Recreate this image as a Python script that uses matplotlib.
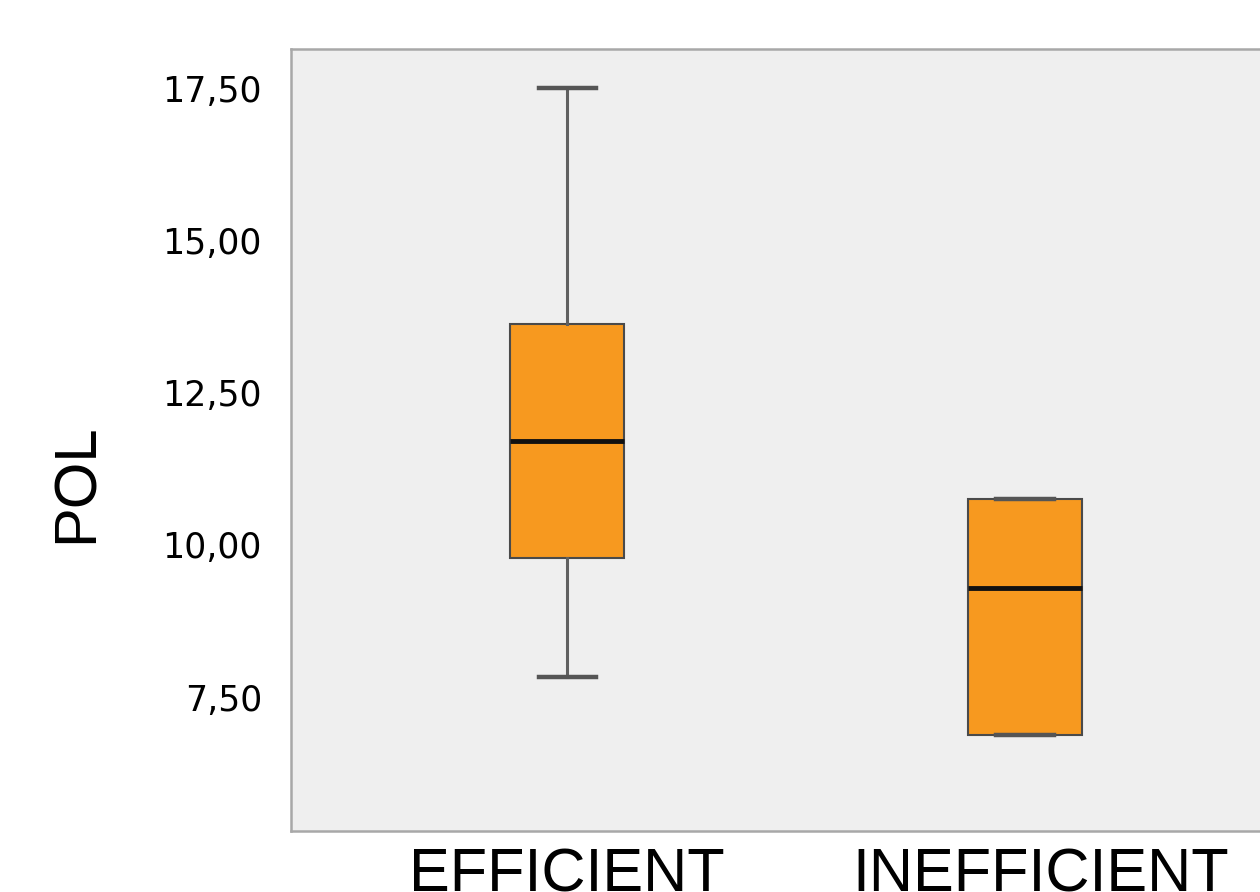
import matplotlib.pyplot as plt
from matplotlib import font_manager
from matplotlib.transforms import ScaledTranslation

# Kvartily skupin (ukazatel POL)
groups = ['EFFICIENT', 'INEFFICIENT']
whisker_low = [7.83, 6.88]
q1 = [9.78, 6.88]
median = [11.71, 9.29]
q3 = [13.63, 10.75]
whisker_high = [17.50, 10.75]
y_ticks = [7.5, 10.0, 12.5, 15.0, 17.5]

names = {f.name for f in font_manager.fontManager.ttflist}
narrow = 'Liberation Sans Narrow' if 'Liberation Sans Narrow' in names else 'Liberation Sans'

stats = []
for i, name in enumerate(groups):
    stats.append({
        'label': name,
        'whislo': whisker_low[i],
        'q1': q1[i],
        'med': median[i],
        'q3': q3[i],
        'whishi': whisker_high[i],
        'fliers': [],
    })

fig = plt.figure(figsize=(12.6, 8.92), dpi=100)
ax = fig.add_axes([0.231, 0.0684, 0.8016, 0.8766])
ax.set_facecolor('#efefef')

ax.bxp(stats, positions=[1, 2], widths=0.25, patch_artist=True,
       showfliers=False, capwidths=0.125,
       boxprops=dict(facecolor='#f7991f', edgecolor='#4a4a4a', linewidth=1.5),
       medianprops=dict(color='#111111', linewidth=3.5),
       whiskerprops=dict(color='#606060', linewidth=2.2),
       capprops=dict(color='#555555', linewidth=3.2))

ax.set_xlim(0.397, 2.603)
ax.set_ylim(5.30, 18.14)

ax.set_yticks(y_ticks)
ax.set_yticklabels([f'{v:.2f}'.replace('.', ',') for v in y_ticks],
                   fontsize=25, family='DejaVu Sans')
ax.tick_params(axis='y', length=0, pad=21)
ax.tick_params(axis='x', length=0, pad=12)
ax.set_xticks([1, 2])
ax.set_xticklabels(groups, fontsize=44, family=narrow)

# druhý popisek je o kousek vpravo
lab = ax.get_xticklabels()[1]
lab.set_transform(lab.get_transform() + ScaledTranslation(0.16, 0, fig.dpi_scale_trans))

ax.set_ylabel('POL', fontsize=43, family=narrow)
ax.yaxis.set_label_coords(-0.185, 0.445)

for side in ['top', 'bottom', 'left', 'right']:
    ax.spines[side].set_color('#a8a8a8')
    ax.spines[side].set_linewidth(1.8)

fig.savefig('out.png', dpi=100)
